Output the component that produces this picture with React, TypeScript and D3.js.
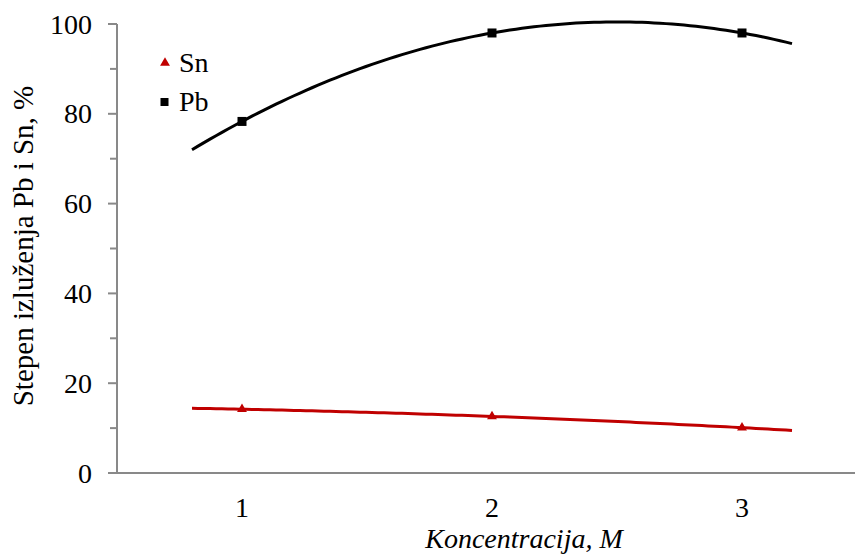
import React from "react";
import * as d3 from "d3";

const categories = [1, 2, 3];
const pbValues = [78.3, 98.0, 98.0];
const snValues = [14.2, 12.6, 10.1];
const yTicks = [0, 20, 40, 60, 80, 100];
const yMinorTicks = [10, 30, 50, 70, 90];
const xTickLabels = ["1", "2", "3"];
const trendRange = [0.8, 3.2];

function quadFit(xs: number[], ys: number[]) {
  const n = xs.length;
  let s0 = n, s1 = 0, s2 = 0, s3 = 0, s4 = 0, t0 = 0, t1 = 0, t2 = 0;
  for (let i = 0; i < n; i++) {
    const xv = xs[i], yv = ys[i];
    s1 += xv; s2 += xv * xv; s3 += xv * xv * xv; s4 += xv * xv * xv * xv;
    t0 += yv; t1 += xv * yv; t2 += xv * xv * yv;
  }
  const M = [
    [s4, s3, s2, t2],
    [s3, s2, s1, t1],
    [s2, s1, s0, t0],
  ];
  for (let i = 0; i < 3; i++) {
    for (let j = i + 1; j < 3; j++) {
      const f = M[j][i] / M[i][i];
      for (let k = i; k < 4; k++) M[j][k] -= f * M[i][k];
    }
  }
  const sol = [0, 0, 0];
  for (let i = 2; i >= 0; i--) {
    let s = M[i][3];
    for (let k = i + 1; k < 3; k++) s -= M[i][k] * sol[k];
    sol[i] = s / M[i][i];
  }
  const [a, b, c] = sol;
  return (xv: number) => a * xv * xv + b * xv + c;
}

const FONT = `"Liberation Serif", "Tinos", monospace`;

function T(props: { x: number; y: number; anchor?: string; italic?: boolean; size?: number; transform?: string; dy?: string; children: React.ReactNode }) {
  return (
    <text
      x={props.x}
      y={props.y}
      dy={props.dy}
      transform={props.transform}
      textAnchor={props.anchor || "start"}
      style={{ fontFamily: FONT, fontSize: props.size || 28, fontStyle: props.italic ? "italic" : "normal" }}
      fill="#000"
    >
      {props.children}
    </text>
  );
}

export default function App() {
  const W = 855, H = 556;
  const x = d3.scaleLinear().domain([0.5, 3.5]).range([117, 867]);
  const y = d3.scaleLinear().domain([0, 100]).range([473, 24]);
  const axisColor = "#898989";
  const red = "#C00000";

  const samples = d3.range(0, 101).map((i) => trendRange[0] + (trendRange[1] - trendRange[0]) * i / 100);
  const line = d3.line<[number, number]>().x((d) => x(d[0])).y((d) => y(d[1]));
  const pbFit = quadFit(categories, pbValues);
  const snFit = quadFit(categories, snValues);
  const pbPath = line(samples.map((s) => [s, pbFit(s)] as [number, number])) || "";
  const snPath = line(samples.map((s) => [s, snFit(s)] as [number, number])) || "";

  const tri = d3.symbol().type(d3.symbolTriangle).size(42)() || "";

  return (
    <svg width={W} height={H} style={{ position: "absolute", left: 0, top: 0 }}>
      <rect x={0} y={0} width={W} height={H} fill="#fff" />
      <line x1={x(0.5)} x2={W} y1={y(0)} y2={y(0)} stroke={axisColor} strokeWidth={2} />
      <line x1={x(0.5)} x2={x(0.5)} y1={y(0) + 1} y2={y(100)} stroke={axisColor} strokeWidth={2} />
      {yTicks.map((t) => (
        <g key={"t" + t}>
          <line x1={x(0.5) - 9} x2={x(0.5)} y1={y(t)} y2={y(t)} stroke={axisColor} strokeWidth={2} />
          <T x={92} y={y(t)} dy="0.34em" anchor="end">{t}</T>
        </g>
      ))}
      {yMinorTicks.map((t) => (
        <line key={"m" + t} x1={x(0.5) - 7} x2={x(0.5)} y1={y(t)} y2={y(t)} stroke={axisColor} strokeWidth={2} />
      ))}
      {categories.map((c, i) => (
        <T key={"x" + c} x={x(c)} y={517} anchor="middle">{xTickLabels[i]}</T>
      ))}
      <T x={524} y={548} anchor="middle" italic>Koncentracija, M</T>
      <T x={0} y={0} size={29} transform="translate(33, 246) rotate(-90)" anchor="middle">Stepen izluženja Pb i Sn, %</T>

      <path d={pbPath} fill="none" stroke="#000" strokeWidth={3} />
      <path d={snPath} fill="none" stroke={red} strokeWidth={3} />

      {categories.map((c, i) => (
        <rect key={"pb" + c} x={x(c) - 4.5} y={y(pbValues[i]) - 4.5} width={9} height={9} fill="#000" />
      ))}
      {categories.map((c, i) => (
        <path key={"sn" + c} d={tri} transform={`translate(${x(c)},${y(snValues[i])})`} fill={red} />
      ))}

      <path d={tri} transform="translate(165,63)" fill={red} />
      <T x={179} y={72}>Sn</T>
      <rect x={160.5} y={98} width={8} height={8} fill="#000" />
      <T x={179} y={111}>Pb</T>
    </svg>
  );
}
